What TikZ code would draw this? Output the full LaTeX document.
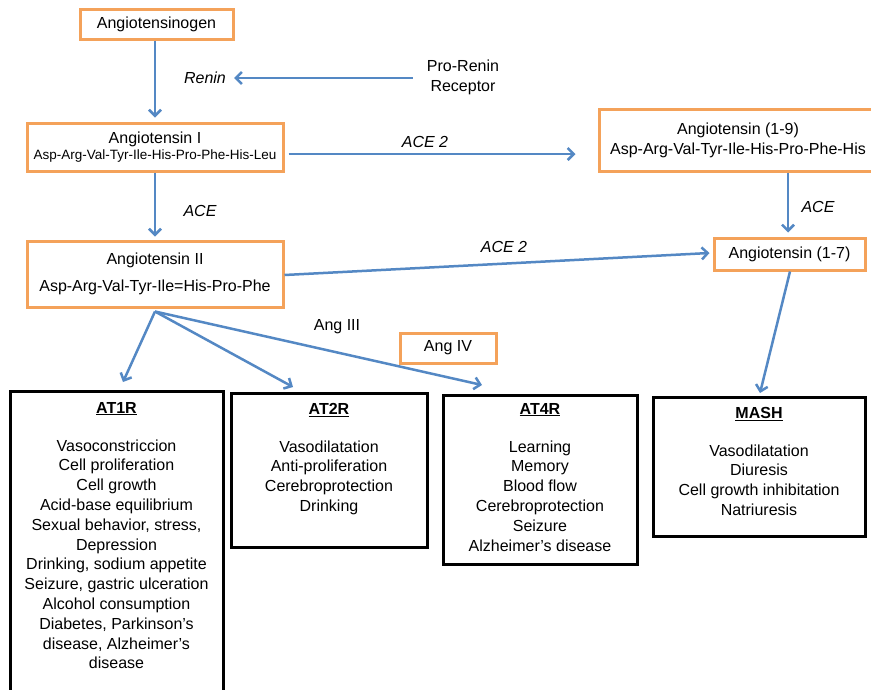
\documentclass[tikz,border=0pt]{standalone}
\usepackage{fontspec}
\setmainfont{Liberation Sans}
\usetikzlibrary{arrows.meta,calc,shadows}
\definecolor{orbox}{RGB}{244,162,90}
\definecolor{arrblue}{RGB}{84,136,196}
\begin{document}
\begin{tikzpicture}[x=1pt,y=-1pt,
  shad/.style={drop shadow={shadow xshift=1.5pt,shadow yshift=-1.5pt,fill=black,opacity=0.18}},
  obox/.style={draw=orbox, line width=3pt, fill=white, align=center, inner sep=0pt, font=\fontsize{16}{20}\selectfont, shad},
  bbox/.style={draw=black, line width=3pt, fill=white, inner sep=0pt, shad},
  lbl/.style={font=\fontsize{16}{20}\selectfont\itshape, inner sep=0pt},
  txt/.style={align=center, inner sep=0pt, font=\fontsize{16}{19.8}\selectfont},
  arr/.style={draw=arrblue, line width=2.5pt, -{Straight Barb[length=6pt,width=12pt]}}
]
\clip (0,0) rectangle (871,689);
\fill[white] (0,0) rectangle (871,689);

% orange boxes
\node[obox, minimum width=153pt, minimum height=30pt] (ang0) at (156.5,24) {Angiotensinogen};
\node[obox, minimum width=256pt, minimum height=48pt, font=\fontsize{16}{16}\selectfont] (ang1) at (155,147) {Angiotensin I\\{\fontsize{13.5}{16}\selectfont Asp-Arg-Val-Tyr-Ile-His-Pro-Phe-His-Leu}};
\node[obox, minimum width=256pt, minimum height=66pt] (ang2) at (155,274) {Angiotensin II\\[7pt]Asp-Arg-Val-Tyr-Ile=His-Pro-Phe};
\node[obox, minimum width=278pt, minimum height=62pt] (ang19) at (738,140) {Angiotensin (1-9)\\Asp-Arg-Val-Tyr-Ile-His-Pro-Phe-His};
\node[obox, minimum width=151pt, minimum height=32pt] (ang17) at (789.5,254) {Angiotensin (1-7)};
\node[obox, minimum width=96pt, minimum height=30pt] (ang4) at (448,348) {Ang IV};

% labels
\node[txt] (prr) at (463,77) {Pro-Renin\\Receptor};
\node[lbl] (renin) at (205,78) {Renin};
\node[lbl] (ace1) at (200,211) {ACE};
\node[lbl] (ace2a) at (425,142) {ACE 2};
\node[lbl] (ace2b) at (504,247) {ACE 2};
\node[lbl] (ace3) at (818,207) {ACE};
\node[txt] (ang3) at (337,327) {Ang III};

% black boxes
\node[bbox, minimum width=213pt, minimum height=320pt, anchor=north] (at1r) at (116.5,390) {};
\node[bbox, minimum width=196pt, minimum height=154pt, anchor=north] (at2r) at (329,392) {};
\node[bbox, minimum width=194pt, minimum height=169pt, anchor=north] (at4r) at (540,394) {};
\node[bbox, minimum width=212pt, minimum height=139pt, anchor=north] (mash) at (759,396) {};

\node[txt, anchor=north] (at1rt) at (116.5,402) {\underline{\textbf{AT1R}}\\[18pt]Vasoconstriccion\\Cell proliferation\\Cell growth\\Acid-base equilibrium\\Sexual behavior, stress,\\Depression\\Drinking, sodium appetite\\Seizure, gastric ulceration\\Alcohol consumption\\Diabetes, Parkinson's\\disease, Alzheimer's\\disease};
\node[txt, anchor=north] (at2rt) at (329,403) {\underline{\textbf{AT2R}}\\[18pt]Vasodilatation\\Anti-proliferation\\Cerebroprotection\\Drinking};
\node[txt, anchor=north] (at4rt) at (540,403) {\underline{\textbf{AT4R}}\\[18pt]Learning\\Memory\\Blood flow\\Cerebroprotection\\Seizure\\Alzheimer's disease};
\node[txt, anchor=north] (masht) at (759,407) {\underline{\textbf{MASH}}\\[18pt]Vasodilatation\\Diuresis\\Cell growth inhibitation\\Natriuresis};

% arrows
\draw[arr] (ang1.north |- ang0.south) -- ($(ang1.north)+(0,-4)$);
\draw[arr] (ang1.south) -- ($(ang2.north)+(0,-3)$);
\draw[arr] ([xshift=-14pt]prr.west |- renin) -- ([xshift=8pt]renin.east);
\draw[arr] ($(ang1.east)+(4,7)$) -- ($(ang19.west)+(-22,14)$);
\draw[arr] ($(ang2.east)+(0,1)$) -- ($(ang17.west)+(-3,-1)$);
\draw[arr] ($(ang19.south)+(50,0)$) -- ($(ang17.north)+(-1.5,-4)$);
\draw[arr] ($(ang17.south)+(0.5,0)$) -- ($(mash.north)+(1,-3)$);
\coordinate (split) at ($(ang2.south)+(0,3)$);
\draw[arr] (split) -- ($(at1r.north)+(6.5,-8)$);
\draw[arr] (split) -- ($(at2r.north)+(-36,-5)$);
\draw[arr] (split) -- ($(at4r.north)+(-58,-9)$);
\end{tikzpicture}
\end{document}
